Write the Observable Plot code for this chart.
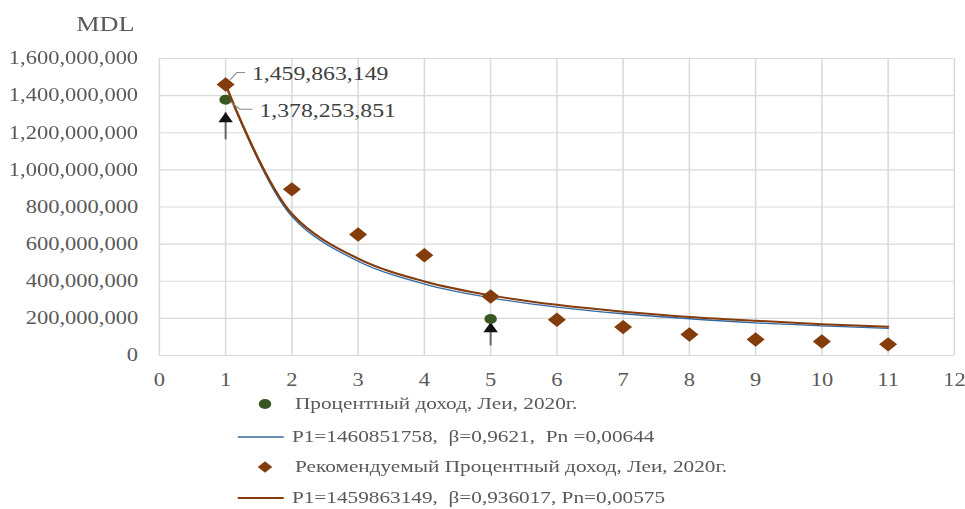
<!DOCTYPE html>
<html>
<head>
<meta charset="utf-8">
<script src="https://cdn.jsdelivr.net/npm/d3@7"></script>
<script src="https://cdn.jsdelivr.net/npm/@observablehq/plot@0.6"></script>
<style>
  html, body { margin: 0; padding: 0; background: #fff; overflow: hidden; }
  #wrap { position: relative; width: 772px; height: 509px; transform: scaleX(1.25); transform-origin: 0 0;
          font-family: 'Liberation Serif', 'Times New Roman', serif; color: #595959; }
  #mdl { position: absolute; left: 61px; top: 12px; font-size: 21px; line-height: 24px; }
  .row { position: absolute; left: 0; height: 30px; width: 772px; }
  .row span { position: absolute; top: 0; line-height: 30px; font-size: 17px; white-space: pre; }
  .row svg { position: absolute; top: 0; }
</style>
</head>
<body>
<div id="wrap">
  <div id="chart"></div>
  <div id="mdl">MDL</div>
  <div id="legend"></div>
</div>
<script>
// ---- data ----
const periods = [1, 2, 3, 4, 5, 6, 7, 8, 9, 10, 11];
const actualPeriods = [1, 5];
const actualIncome = [1378253851, 197000000];
const recommendedIncome = [1459863149, 895000000, 652000000, 540000000, 318000000, 193000000, 153000000, 113000000, 86000000, 75000000, 60000000];
const fitActual = [1460851758, 750000000, 508000000, 385000000, 311000000, 261000000, 225000000, 198000000, 176000000, 160000000, 146000000];
const fitRecommended = [1459863149, 763000000, 522000000, 399000000, 324000000, 273000000, 236000000, 208000000, 187000000, 169000000, 155000000];
const xTicks = [0, 1, 2, 3, 4, 5, 6, 7, 8, 9, 10, 11, 12];
const yTicks = [0, 200000000, 400000000, 600000000, 800000000, 1000000000, 1200000000, 1400000000, 1600000000];
const seriesNames = ["Процентный доход, Леи, 2020г.", "P1=1460851758,  β=0,9621,  Pn =0,00644",
                     "Рекомендуемый Процентный доход, Леи, 2020г.", "P1=1459863149,  β=0,936017, Pn=0,00575"];
const labelPoints = [
  {x: 1, y: 1459863149, text: "1,459,863,149"},
  {x: 1, y: 1378253851, text: "1,378,253,851"}
];
const arrows = [
  {x: 1, from: 1165000000, to: 1310000000},
  {x: 5, from: 55000000, to: 178000000}
];

const GREEN = "#385723", BLUE = "#3569a3", BROWN = "#843c0c", GRID = "#d9d9d9";

const actual = actualPeriods.map((p, i) => ({x: p, y: actualIncome[i]}));
const rec = periods.map((p, i) => ({x: p, y: recommendedIncome[i]}));
const fitA = periods.map((p, i) => ({x: p, y: fitActual[i]}));
const fitR = periods.map((p, i) => ({x: p, y: fitRecommended[i]}));

const plot = Plot.plot({
  width: 772, height: 395,
  marginTop: 58, marginBottom: 40, marginLeft: 127, marginRight: 9,
  x: {domain: [0, 12], ticks: xTicks},
  y: {domain: [0, 1600000000], ticks: yTicks},
  style: {fontFamily: "'Liberation Serif', 'Times New Roman', serif", fontSize: "18px", color: "#595959", background: "white", overflow: "visible"},
  marks: [
    Plot.gridX(xTicks, {stroke: GRID, strokeOpacity: 1, strokeWidth: 1.2}),
    Plot.gridY(yTicks, {stroke: GRID, strokeOpacity: 1, strokeWidth: 1.2}),
    Plot.axisX(xTicks, {tickSize: 0, tickPadding: 18, label: null, fill: "#595959"}),
    Plot.axisY(yTicks, {tickSize: 0, tickPadding: 17, label: null, tickFormat: d3.format(","), fill: "#595959"}),
    Plot.link(arrows, {x1: "x", x2: "x", y1: "from", y2: "to", stroke: "#666", strokeWidth: 1.6}),
    Plot.dot(arrows, {x: "x", y: "to", symbol: "triangle", r: 4.3, fill: "#111", stroke: "none", dy: 6.5}),
    Plot.dot(actual, {x: "x", y: "y", r: 5, fill: GREEN, stroke: "none"}),
    Plot.line(fitA, {x: "x", y: "y", stroke: BLUE, strokeWidth: 1.3, curve: "catmull-rom"}),
    Plot.dot(rec, {x: "x", y: "y", symbol: "diamond2", r: 6.5, fill: BROWN, stroke: "none"}),
    Plot.line(fitR, {x: "x", y: "y", stroke: BROWN, strokeWidth: 2, curve: "catmull-rom"}),
    Plot.text([labelPoints[0]], {x: "x", y: "y", text: "text", dx: 21, dy: -11, textAnchor: "start", fontSize: 19, fill: "#404040"}),
    Plot.text([labelPoints[1]], {x: "x", y: "y", text: "text", dx: 27, dy: 11, textAnchor: "start", fontSize: 19, fill: "#404040"})
  ]
});
document.getElementById("chart").appendChild(plot);

// leader lines for data labels, placed through the scales
const sx = plot.scale("x").apply, sy = plot.scale("y").apply;
const svg = d3.select(plot);
const leaders = [
  [[4, -4], [9.5, -11.5], [16, -11.5]],
  [[4, 2.5], [12, 10], [22, 10]]
];
labelPoints.forEach((d, i) => {
  const px = sx(d.x), py = sy(d.y);
  svg.append("path")
    .attr("d", d3.line()(leaders[i].map(([a, b]) => [px + a, py + b])))
    .attr("fill", "none").attr("stroke", "#8c8c8c").attr("stroke-width", 1);
});

// legend
const legend = document.getElementById("legend");
const rowTops = [389, 422, 452, 483];
const kinds = ["dot", "line", "diamond", "line"];
const colors = [GREEN, BLUE, BROWN, BROWN];
const widths = [0, 1.3, 0, 2];
seriesNames.forEach((name, i) => {
  const row = document.createElement("div");
  row.className = "row";
  row.style.top = rowTops[i] + "px";
  let sw;
  if (kinds[i] === "dot") {
    sw = `<svg width="14" height="30" style="left:204.5px"><circle cx="7" cy="15" r="5" fill="${colors[i]}"/></svg>`;
  } else if (kinds[i] === "diamond") {
    sw = `<svg width="14" height="30" style="left:204.5px"><path d="M7,9.3L12.8,15L7,20.7L1.2,15Z" fill="${colors[i]}"/></svg>`;
  } else {
    sw = `<svg width="40" height="30" style="left:190px"><line x1="0" x2="37" y1="15" y2="15" stroke="${colors[i]}" stroke-width="${widths[i]}"/></svg>`;
  }
  const left = kinds[i] === "line" ? 233.5 : 236;
  row.innerHTML = sw + `<span style="left:${left}px">${name}</span>`;
  legend.appendChild(row);
});
</script>
</body>
</html>
